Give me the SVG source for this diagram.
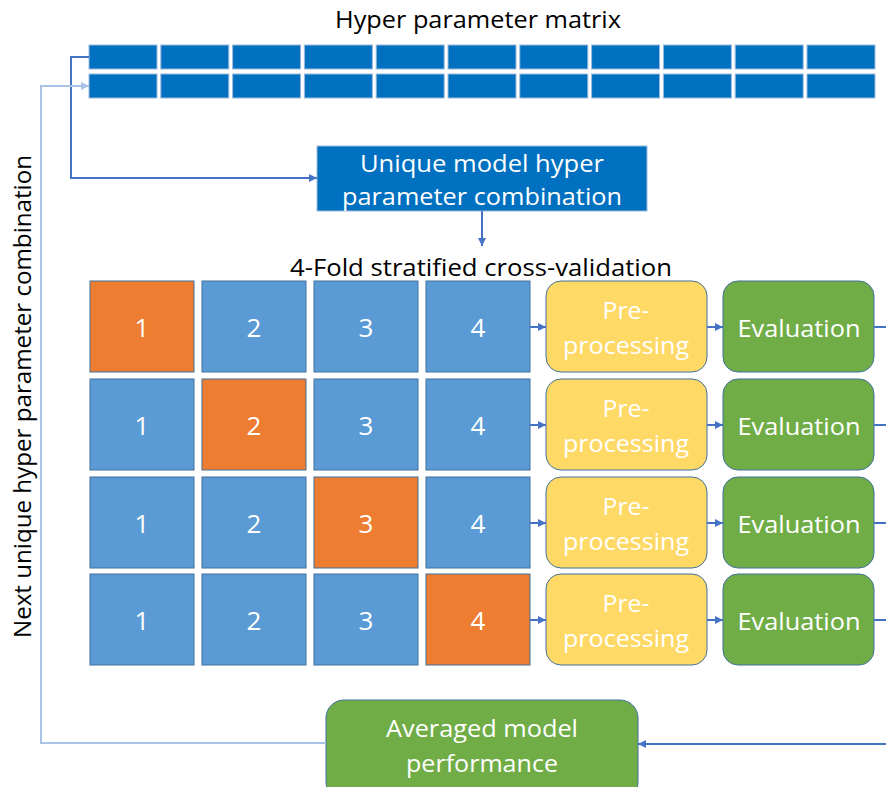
<svg xmlns="http://www.w3.org/2000/svg" width="886" height="787" viewBox="0 0 886 787">
  <defs>
    <style>
      text { font-family: "Open Sans", "Liberation Sans", sans-serif; font-size: 24px; }
      .label { fill: #000000; }
      .white { fill: #ffffff; text-anchor: middle; }
      .digit { font-size: 26px; }
      .mcell { fill: #0070C0; stroke: #9db9dc; stroke-width: 1; }
      .fold { fill: #5B9BD5; stroke: #41719C; stroke-width: 1; }
      .test { fill: #ED7D31; stroke: #41719C; stroke-width: 1; }
      .pre { fill: #FFD966; stroke: #41719C; stroke-width: 1; }
      .eval { fill: #70AD47; stroke: #41719C; stroke-width: 1; }
      .combo { fill: #0070C0; stroke: #9db9dc; stroke-width: 1; }
      .dark { fill: none; stroke: #4472C4; stroke-width: 2; }
      .light { fill: none; stroke: #A9C2E6; stroke-width: 2; }
    </style>
    <marker id="arrowDark" viewBox="0 0 10 10" refX="10" refY="5" markerWidth="9" markerHeight="8" markerUnits="userSpaceOnUse" orient="auto">
      <path d="M0,0 L10,5 L0,10 z" fill="#4472C4"/>
    </marker>
    <marker id="arrowLight" viewBox="0 0 10 10" refX="10" refY="5" markerWidth="9" markerHeight="8" markerUnits="userSpaceOnUse" orient="auto">
      <path d="M0,0 L10,5 L0,10 z" fill="#A9C2E6"/>
    </marker>
  </defs>

  <rect width="886" height="787" fill="#ffffff"/>

  <!-- Titles -->
  <text class="label" x="478" y="28" text-anchor="middle" textLength="286" lengthAdjust="spacingAndGlyphs">Hyper parameter matrix</text>
  <text class="label" x="481" y="276" text-anchor="middle" textLength="382" lengthAdjust="spacingAndGlyphs">4-Fold stratified cross-validation</text>
  <text class="label" transform="translate(31,396.5) rotate(-90)" x="0" y="0" text-anchor="middle" textLength="483" lengthAdjust="spacingAndGlyphs">Next unique hyper parameter combination</text>

  <!-- Hyper parameter matrix -->
  <g id="matrix">
    <rect class="mcell" x="89" y="45" width="68" height="24"/>
    <rect class="mcell" x="160.8" y="45" width="68" height="24"/>
    <rect class="mcell" x="232.6" y="45" width="68" height="24"/>
    <rect class="mcell" x="304.4" y="45" width="68" height="24"/>
    <rect class="mcell" x="376.2" y="45" width="68" height="24"/>
    <rect class="mcell" x="448" y="45" width="68" height="24"/>
    <rect class="mcell" x="519.8" y="45" width="68" height="24"/>
    <rect class="mcell" x="591.6" y="45" width="68" height="24"/>
    <rect class="mcell" x="663.4" y="45" width="68" height="24"/>
    <rect class="mcell" x="735.2" y="45" width="68" height="24"/>
    <rect class="mcell" x="807" y="45" width="68" height="24"/>
    <rect class="mcell" x="89" y="74" width="68" height="24"/>
    <rect class="mcell" x="160.8" y="74" width="68" height="24"/>
    <rect class="mcell" x="232.6" y="74" width="68" height="24"/>
    <rect class="mcell" x="304.4" y="74" width="68" height="24"/>
    <rect class="mcell" x="376.2" y="74" width="68" height="24"/>
    <rect class="mcell" x="448" y="74" width="68" height="24"/>
    <rect class="mcell" x="519.8" y="74" width="68" height="24"/>
    <rect class="mcell" x="591.6" y="74" width="68" height="24"/>
    <rect class="mcell" x="663.4" y="74" width="68" height="24"/>
    <rect class="mcell" x="735.2" y="74" width="68" height="24"/>
    <rect class="mcell" x="807" y="74" width="68" height="24"/>
  </g>

  <!-- Selected combination -->
  <g id="combination">
    <rect class="combo" x="317" y="146" width="330" height="65"/>
    <text class="white" x="482" y="172" textLength="244" lengthAdjust="spacingAndGlyphs">Unique model hyper</text>
    <text class="white" x="482" y="205" textLength="280" lengthAdjust="spacingAndGlyphs">parameter combination</text>
  </g>

  <!-- Fold grid: orange = held-out fold -->
  <g id="fold-row-1">
    <rect class="test" x="90" y="281" width="104" height="91"/>
    <rect class="fold" x="202" y="281" width="104" height="91"/>
    <rect class="fold" x="314" y="281" width="104" height="91"/>
    <rect class="fold" x="426" y="281" width="104" height="91"/>
    <text class="white digit" x="142" y="337">1</text>
    <text class="white digit" x="254" y="337">2</text>
    <text class="white digit" x="366" y="337">3</text>
    <text class="white digit" x="478" y="337">4</text>
  </g>
  <g id="fold-row-2">
    <rect class="fold" x="90" y="379" width="104" height="91"/>
    <rect class="test" x="202" y="379" width="104" height="91"/>
    <rect class="fold" x="314" y="379" width="104" height="91"/>
    <rect class="fold" x="426" y="379" width="104" height="91"/>
    <text class="white digit" x="142" y="435">1</text>
    <text class="white digit" x="254" y="435">2</text>
    <text class="white digit" x="366" y="435">3</text>
    <text class="white digit" x="478" y="435">4</text>
  </g>
  <g id="fold-row-3">
    <rect class="fold" x="90" y="477" width="104" height="91"/>
    <rect class="fold" x="202" y="477" width="104" height="91"/>
    <rect class="test" x="314" y="477" width="104" height="91"/>
    <rect class="fold" x="426" y="477" width="104" height="91"/>
    <text class="white digit" x="142" y="533">1</text>
    <text class="white digit" x="254" y="533">2</text>
    <text class="white digit" x="366" y="533">3</text>
    <text class="white digit" x="478" y="533">4</text>
  </g>
  <g id="fold-row-4">
    <rect class="fold" x="90" y="574" width="104" height="91"/>
    <rect class="fold" x="202" y="574" width="104" height="91"/>
    <rect class="fold" x="314" y="574" width="104" height="91"/>
    <rect class="test" x="426" y="574" width="104" height="91"/>
    <text class="white digit" x="142" y="630">1</text>
    <text class="white digit" x="254" y="630">2</text>
    <text class="white digit" x="366" y="630">3</text>
    <text class="white digit" x="478" y="630">4</text>
  </g>

  <!-- Pre-processing steps -->
  <g id="pre-1">
    <rect class="pre" x="546" y="281" width="161" height="91" rx="15"/>
    <text class="white" x="626" y="319" textLength="47" lengthAdjust="spacingAndGlyphs">Pre-</text>
    <text class="white" x="626" y="354" textLength="126" lengthAdjust="spacingAndGlyphs">processing</text>
  </g>
  <g id="pre-2">
    <rect class="pre" x="546" y="379" width="161" height="91" rx="15"/>
    <text class="white" x="626" y="417" textLength="47" lengthAdjust="spacingAndGlyphs">Pre-</text>
    <text class="white" x="626" y="452" textLength="126" lengthAdjust="spacingAndGlyphs">processing</text>
  </g>
  <g id="pre-3">
    <rect class="pre" x="546" y="477" width="161" height="91" rx="15"/>
    <text class="white" x="626" y="515" textLength="47" lengthAdjust="spacingAndGlyphs">Pre-</text>
    <text class="white" x="626" y="550" textLength="126" lengthAdjust="spacingAndGlyphs">processing</text>
  </g>
  <g id="pre-4">
    <rect class="pre" x="546" y="574" width="161" height="91" rx="15"/>
    <text class="white" x="626" y="612" textLength="47" lengthAdjust="spacingAndGlyphs">Pre-</text>
    <text class="white" x="626" y="647" textLength="126" lengthAdjust="spacingAndGlyphs">processing</text>
  </g>

  <!-- Evaluation steps -->
  <g id="eval-1">
    <rect class="eval" x="723" y="281" width="151" height="91" rx="15"/>
    <text class="white" x="799" y="337" textLength="123" lengthAdjust="spacingAndGlyphs">Evaluation</text>
  </g>
  <g id="eval-2">
    <rect class="eval" x="723" y="379" width="151" height="91" rx="15"/>
    <text class="white" x="799" y="435" textLength="123" lengthAdjust="spacingAndGlyphs">Evaluation</text>
  </g>
  <g id="eval-3">
    <rect class="eval" x="723" y="477" width="151" height="91" rx="15"/>
    <text class="white" x="799" y="533" textLength="123" lengthAdjust="spacingAndGlyphs">Evaluation</text>
  </g>
  <g id="eval-4">
    <rect class="eval" x="723" y="574" width="151" height="91" rx="15"/>
    <text class="white" x="799" y="630" textLength="123" lengthAdjust="spacingAndGlyphs">Evaluation</text>
  </g>

  <!-- Averaged result -->
  <g id="average">
    <rect class="eval" x="326" y="700" width="312" height="100" rx="18"/>
    <text class="white" x="482" y="737" textLength="192" lengthAdjust="spacingAndGlyphs">Averaged model</text>
    <text class="white" x="482" y="772" textLength="152" lengthAdjust="spacingAndGlyphs">performance</text>
  </g>

  <!-- Connectors -->
  <g id="connectors">
    <path class="dark" d="M89,57 H71 V178 H317" marker-end="url(#arrowDark)"/>
    <path class="dark" d="M482,211 V246" marker-end="url(#arrowDark)"/>
    <path class="light" d="M326,743 H41 V86 H89" marker-end="url(#arrowLight)"/>

    <path class="dark" d="M530,327 H546" marker-end="url(#arrowDark)"/>
    <path class="dark" d="M530,425 H546" marker-end="url(#arrowDark)"/>
    <path class="dark" d="M530,523 H546" marker-end="url(#arrowDark)"/>
    <path class="dark" d="M530,620 H546" marker-end="url(#arrowDark)"/>

    <path class="dark" d="M707,327 H723" marker-end="url(#arrowDark)"/>
    <path class="dark" d="M707,425 H723" marker-end="url(#arrowDark)"/>
    <path class="dark" d="M707,523 H723" marker-end="url(#arrowDark)"/>
    <path class="dark" d="M707,620 H723" marker-end="url(#arrowDark)"/>

    <path class="dark" d="M874,327 H890"/>
    <path class="dark" d="M874,425 H890"/>
    <path class="dark" d="M874,523 H890"/>
    <path class="dark" d="M874,620 H890"/>

    <path class="dark" d="M890,744 H638" marker-end="url(#arrowDark)"/>
  </g>
</svg>
